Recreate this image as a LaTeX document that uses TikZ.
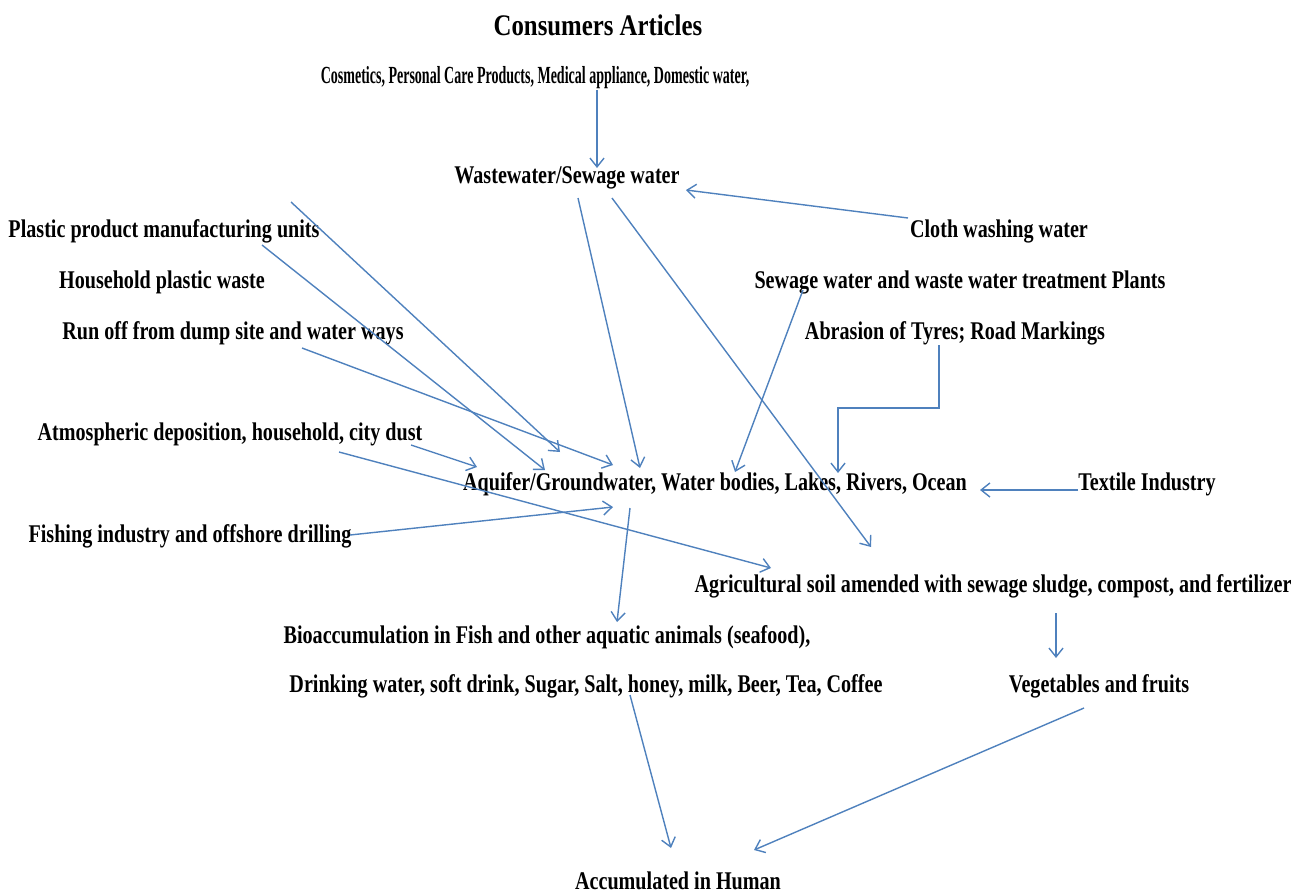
\documentclass[tikz,border=0pt]{standalone}
\usepackage{fontspec}
\setmainfont[FakeStretch=0.79]{Liberation Serif}
\newfontfamily\titlefont[FakeStretch=0.83]{Liberation Serif}
\newfontfamily\narrowfont[FakeStretch=0.57]{Liberation Serif}
\usetikzlibrary{arrows.meta,calc}
\definecolor{flowblue}{RGB}{79,129,189}

\begin{document}
\begin{tikzpicture}[x=0.02cm,y=-0.02cm,
    lbl/.style={inner sep=0pt,font=\fontsize{14.5}{17}\selectfont\bfseries},
    flow/.style={draw=flowblue,line width=0.8pt,-{Straight Barb[length=5pt,width=8pt]}}]
    \useasboundingbox (0,0) rectangle (1298,893);

    % Labels
    \node[inner sep=0pt,font=\titlefont\fontsize{17}{20}\selectfont\bfseries] (title) at (598,25) {Consumers Articles};
    \node[inner sep=0pt,font=\narrowfont\fontsize{14}{16}\selectfont\bfseries] (cosm) at (535,78) {Cosmetics, Personal Care Products, Medical appliance, Domestic water,};
    \node[lbl] (waste) at (567,178) {Wastewater/Sewage water};
    \node[lbl] (cloth) at (999,231) {Cloth washing water};
    \node[lbl] (plastic) at (164,231) {Plastic product manufacturing units};
    \node[lbl] (household) at (162,282) {Household plastic waste};
    \node[lbl] (sewplant) at (960,282) {Sewage water and waste water treatment Plants};
    \node[lbl] (runoff) at (233,333) {Run off from dump site and water ways};
    \node[lbl] (abrasion) at (955,333) {Abrasion of Tyres; Road Markings};
    \node[lbl] (atmos) at (230,434) {Atmospheric deposition, household, city dust};
    \node[lbl] (aquifer) at (715,484) {Aquifer/Groundwater, Water bodies, Lakes, Rivers, Ocean};
    \node[lbl] (textile) at (1147,484) {Textile Industry};
    \node[lbl] (fishing) at (190,536) {Fishing industry and offshore drilling};
    \node[lbl] (agri) at (993,586) {Agricultural soil amended with sewage sludge, compost, and fertilizer};
    \node[lbl] (bio) at (547,637) {Bioaccumulation in Fish and other aquatic animals (seafood),};
    \node[lbl] (drink) at (586,686) {Drinking water, soft drink, Sugar, Salt, honey, milk, Beer, Tea, Coffee};
    \node[lbl] (veg) at (1099,686) {Vegetables and fruits};
    \node[lbl] (human) at (678,881) {Accumulated in Human};

    % Into wastewater
    \draw[flow] ($(cosm)+(62,12)$) -- ($(waste)+(30,-10)$);
    \draw[flow] ($(cloth)+(-91,-13)$) -- ($(waste)+(119,12)$);
    \draw[flow] ($(waste)+(11,20)$) -- ($(aquifer)+(-75,-16)$);
    \draw[flow] ($(waste)+(45,20)$) -- ($(agri)+(-122,-39)$);

    % Sources into water bodies
    \draw[flow] ($(plastic)+(127,-29)$) -- ($(aquifer)+(-155,-32)$);
    \draw[flow] ($(plastic)+(98,14)$) -- ($(aquifer)+(-170,-14)$);
    \draw[flow] ($(runoff)+(69,15)$) -- ($(aquifer)+(-102,-19)$);
    \draw[flow] ($(atmos)+(181,11)$) -- ($(aquifer)+(-238,-17)$);
    \draw[flow] ($(atmos)+(109,18)$) -- ($(agri)+(-222,-18)$);
    \draw[flow] ($(fishing)+(160,-1)$) -- ($(aquifer)+(-102,23)$);
    \draw[flow] ($(sewplant)+(-157,8)$) -- ($(aquifer)+(20,-12)$);
    \draw[flow] ($(abrasion)+(-16,12)$) -- ++(0,63) -| ($(aquifer)+(123,-11)$);
    \draw[flow] ($(textile)+(-69,6)$) -- ($(aquifer)+(265,6)$);

    % Towards human
    \draw[flow] ($(aquifer)+(-85,24)$) -- ($(bio)+(70,-15)$);
    \draw[flow] ($(agri)+(63,27)$) -- ($(veg)+(-43,-28)$);
    \draw[flow] ($(drink)+(44,9)$) -- ($(human)+(-7,-33)$);
    \draw[flow] ($(veg)+(-15,22)$) -- ($(human)+(76,-31)$);
\end{tikzpicture}
\end{document}
